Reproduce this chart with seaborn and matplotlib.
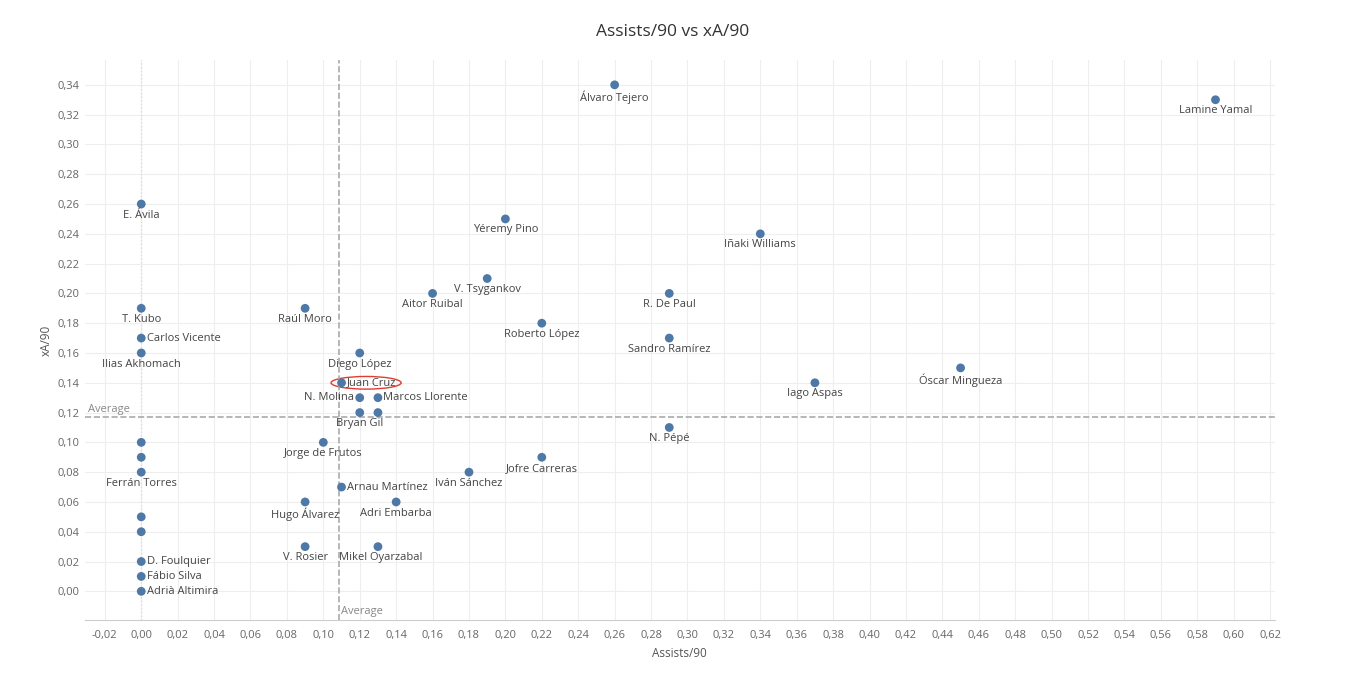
import pandas as pd
import matplotlib.pyplot as plt
import seaborn as sns
from matplotlib.patches import Ellipse
import numpy as np

players = ['Álvaro Tejero', 'Lamine Yamal', 'E. Ávila', 'Yéremy Pino', 'Iñaki Williams',
           'V. Tsygankov', 'Aitor Ruibal', 'R. De Paul', 'T. Kubo', 'Raúl Moro',
           'Roberto López', 'Carlos Vicente', 'Sandro Ramírez', 'Ilias Akhomach', 'Diego López',
           'Óscar Mingueza', 'Juan Cruz', 'Iago Aspas', 'N. Molina', 'Marcos Llorente',
           'Bryan Gil', '', 'N. Pépé', '', 'Jorge de Frutos', '', 'Jofre Carreras',
           'Ferrán Torres', 'Iván Sánchez', 'Arnau Martínez', 'Hugo Álvarez', 'Adri Embarba',
           '', '', 'V. Rosier', 'Mikel Oyarzabal', 'D. Foulquier', 'Fábio Silva', 'Adrià Altimira']
assists90 = [0.26, 0.59, 0.00, 0.20, 0.34, 0.19, 0.16, 0.29, 0.00, 0.09,
             0.22, 0.00, 0.29, 0.00, 0.12, 0.45, 0.11, 0.37, 0.12, 0.13,
             0.12, 0.13, 0.29, 0.00, 0.10, 0.00, 0.22, 0.00, 0.18, 0.11,
             0.09, 0.14, 0.00, 0.00, 0.09, 0.13, 0.00, 0.00, 0.00]
xa90 = [0.34, 0.33, 0.26, 0.25, 0.24, 0.21, 0.20, 0.20, 0.19, 0.19,
        0.18, 0.17, 0.17, 0.16, 0.16, 0.15, 0.14, 0.14, 0.13, 0.13,
        0.12, 0.12, 0.11, 0.10, 0.10, 0.09, 0.09, 0.08, 0.08, 0.07,
        0.06, 0.06, 0.05, 0.04, 0.03, 0.03, 0.02, 0.01, 0.00]
avg_assists = 0.1088
avg_xa = 0.1167

label_right = {'Carlos Vicente', 'Juan Cruz', 'Marcos Llorente', 'Arnau Martínez',
               'D. Foulquier', 'Fábio Silva', 'Adrià Altimira'}
label_left = {'N. Molina'}

df = pd.DataFrame({'player': players, 'a': assists90, 'xa': xa90})

sns.set_style('white')
plt.rcParams['font.family'] = ['Open Sans', 'DejaVu Sans']
fig = plt.figure(figsize=(13.46, 6.74), dpi=100)
ax = fig.add_axes([0.063, 0.080, 0.884, 0.831])
sns.scatterplot(data=df, x='a', y='xa', color='#4e79a7', s=40, edgecolor='none', ax=ax, zorder=3)

txt = '#444444'
for _, r in df.iterrows():
    if not r.player:
        continue
    if r.player in label_right:
        ax.annotate(r.player, (r.a, r.xa), xytext=(4, 0), textcoords='offset points',
                    ha='left', va='center', fontsize=8, color=txt)
    elif r.player in label_left:
        ax.annotate(r.player, (r.a, r.xa), xytext=(-4, 0), textcoords='offset points',
                    ha='right', va='center', fontsize=8, color=txt)
    elif r.player == 'Mikel Oyarzabal':
        ax.annotate(r.player, (r.a, r.xa), xytext=(-28, -4), textcoords='offset points',
                    ha='left', va='top', fontsize=8, color=txt)
    else:
        ax.annotate(r.player, (r.a, r.xa), xytext=(0, -4), textcoords='offset points',
                    ha='center', va='top', fontsize=8, color=txt)

ax.add_patch(Ellipse((0.1235, 0.14), 0.0385, 0.0085, fill=False, color='#e03c31', lw=1))

ax.axvline(avg_assists, color='#aaaaaa', ls='--', lw=1.2)
ax.axhline(avg_xa, color='#aaaaaa', ls='--', lw=1.2)
ax.text(-0.029, avg_xa + 0.002, 'Average', fontsize=8, color='#888888', va='bottom')
ax.text(avg_assists + 0.001, -0.017, 'Average', fontsize=8, color='#888888', va='bottom')

ax.set_xlim(-0.031, 0.6225)
ax.set_ylim(-0.0193, 0.3567)
xt = np.arange(-0.02, 0.621, 0.02)
yt = np.arange(0.0, 0.341, 0.02)
ax.set_xticks(xt)
ax.set_yticks(yt)
ax.set_xticklabels([f'{v:.2f}'.replace('.', ',').replace('-0,00', '0,00') for v in xt],
                   fontsize=8, color='#666666')
ax.set_yticklabels([f'{v:.2f}'.replace('.', ',') for v in yt], fontsize=8, color='#666666')
ax.tick_params(axis='x', length=4, color='#cccccc')
ax.tick_params(axis='y', length=0)
ax.grid(True, color='#eeeeee', lw=0.8)
ax.axvline(0, color='#dddddd', ls=':', lw=1, zorder=1)
for s in ax.spines.values():
    s.set_visible(False)
ax.spines['bottom'].set_visible(True)
ax.spines['bottom'].set_color('#cccccc')
ax.set_xlabel('Assists/90', fontsize=8.5, color='#555555')
ax.set_ylabel('xA/90', fontsize=8.5, color='#555555')
fig.suptitle('Assists/90 vs xA/90', y=0.965, fontsize=12.5, color='#333333')
fig.savefig('out.png', dpi=100)
